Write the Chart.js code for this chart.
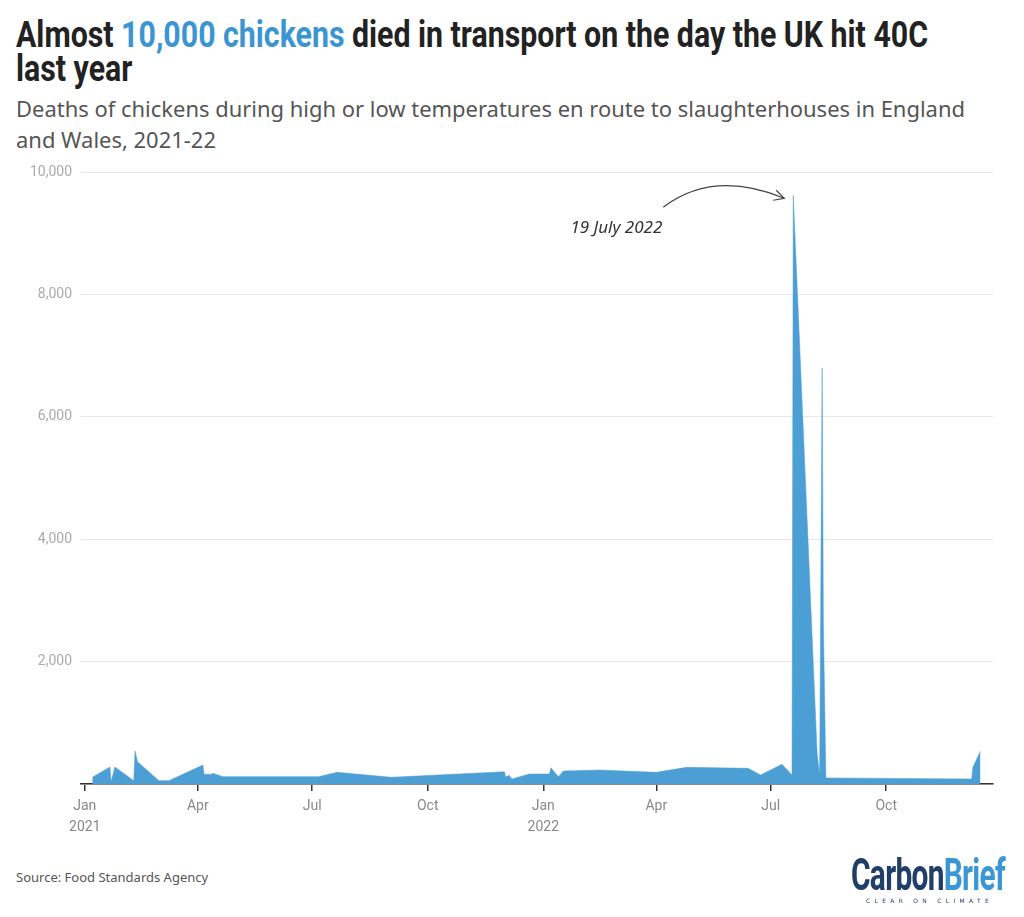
<!DOCTYPE html>
<html>
<head>
<meta charset="utf-8">
<script src="https://cdn.jsdelivr.net/npm/chart.js@4.4.1/dist/chart.umd.min.js"></script>
<style>
  body { margin: 0; background: #fff; }
  #page { position: relative; width: 1024px; height: 917px; overflow: hidden; }
  h1 {
    position: absolute; left: 16px; top: 18px; margin: 0;
    font-family: Roboto, sans-serif; white-space: nowrap;
    font-weight: bold; font-size: 36px; line-height: 34px; color: #222;
    transform-origin: left top;
  }
  h1 .hl { color: #3b95d2; }
  .sub {
    position: absolute; left: 16px; top: 93px; margin: 0; white-space: nowrap;
    font-family: 'Noto Sans', sans-serif; font-size: 22px; line-height: 31px; color: #555;
    transform-origin: left top;
  }
  #wrap { position: absolute; left: 0; top: 150px; width: 1024px; height: 700px; }
  .source {
    position: absolute; left: 16px; top: 868px;
    font-family: 'Noto Sans', sans-serif; font-size: 13px; color: #555;
  }
  .logo { position: absolute; left: 851px; top: 853px; width: 160px; height: 60px; }
  .logo .name {
    position: absolute; left: 0; top: 0;
    font-family: Roboto, sans-serif; font-weight: bold; font-size: 44px;
    line-height: 44px; letter-spacing: -1px; transform-origin: left top;
    white-space: nowrap;
  }
  .logo .c { color: #1f3e68; }
  .logo .b { color: #3a97d4; }
  .logo .tag {
    position: absolute; left: 15px; top: 44px; font-family: 'DejaVu Sans', sans-serif;
    font-size: 6px; letter-spacing: 4.3px; color: #1f3e68; white-space: nowrap;
  }
</style>
</head>
<body>
<div id="page">
  <h1 id="title"><span id="t1">Almost <span class="hl">10,000 chickens</span> died in transport on the day the UK hit 40C</span><br>last year</h1>
  <p class="sub" id="sub"><span id="s1">Deaths of chickens during high or low temperatures en route to slaughterhouses in England</span><br>and Wales, 2021-22</p>
  <div id="wrap"><canvas id="myChart"></canvas></div>
  <div class="source">Source: Food Standards Agency</div>
  <div class="logo">
    <div class="name" id="logoName"><span class="c">Carbon</span><span class="b">Brief</span></div>
    <div class="tag">CLEAR ON CLIMATE</div>
  </div>
</div>
<script>
'use strict';

// dates of each reported batch and the number of chickens that died
let dates = ['2021-01-07', '2021-01-21', '2021-01-22', '2021-01-25', '2021-02-09', '2021-02-10',
    '2021-02-12', '2021-03-01', '2021-03-09', '2021-04-05', '2021-04-06', '2021-04-12',
    '2021-04-13', '2021-04-21', '2021-07-06', '2021-07-21', '2021-09-02', '2021-12-01',
    '2021-12-02', '2021-12-05', '2021-12-07', '2021-12-21', '2022-01-06', '2022-01-07',
    '2022-01-13', '2022-01-17', '2022-02-15', '2022-04-01', '2022-04-25', '2022-06-13',
    '2022-06-23', '2022-07-10', '2022-07-18', '2022-07-19', '2022-08-07', '2022-08-09',
    '2022-08-11', '2022-08-12', '2022-08-14', '2022-12-08', '2022-12-09', '2022-12-15'];
let deaths = [110, 278, 40, 278, 55, 540,
    365, 55, 55, 310, 158, 158,
    175, 120, 120, 190, 110, 200,
    120, 140, 82, 163, 163, 266,
    120, 212, 228, 190, 272, 256,
    147, 321, 147, 9620, 500, 150,
    6800, 2600, 100, 82, 272, 540];

// x axis ticks (quarter starts) and their labels
let tickDates = ['2021-01-01', '2021-04-01', '2021-07-01', '2021-10-01',
    '2022-01-01', '2022-04-01', '2022-07-01', '2022-10-01'];
let tickLabels = [['Jan', '2021'], ['Apr'], ['Jul'], ['Oct'], ['Jan', '2022'], ['Apr'], ['Jul'], ['Oct']];
let yTicks = [0, 2000, 4000, 6000, 8000, 10000];

let axisStart = '2020-12-29';
let axisEnd = '2022-12-25';
let peakDate = '2022-07-19';

// squeeze the headline, subtitle and logo to the widths in the original
function fitWidth(boxId, lineId, width) {
    let box = document.getElementById(boxId);
    let w = document.getElementById(lineId).getBoundingClientRect().width;
    box.style.transform = 'scaleX(' + (width / w) + ')';
}
fitWidth('title', 't1', 912);
fitWidth('sub', 's1', 949);
fitWidth('logoName', 'logoName', 154);

// turn 'yyyy-mm-dd' into a day number so a linear axis can be used
function toDay(s) {
    let p = s.split('-');
    return Date.UTC(+p[0], +p[1] - 1, +p[2]) / 86400000;
}

let points = [];
for (let i = 0; i < dates.length; i++) {
    points.push({ x: toDay(dates[i]), y: deaths[i] });
}

// draws the "19 July 2022" note with its curved arrow
let notePlugin = {
    id: 'note',
    afterDatasetsDraw(chart) {
        let ctx = chart.ctx;
        let px = chart.scales.x.getPixelForValue(toDay(peakDate));
        let i = dates.indexOf(peakDate);
        let py = chart.scales.y.getPixelForValue(deaths[i]);
        ctx.save();
        ctx.font = 'italic 17px "Noto Sans"';
        ctx.fillStyle = '#333';
        ctx.textAlign = 'right';
        ctx.textBaseline = 'middle';
        ctx.fillText('19 July 2022', px - 131, py + 33);

        ctx.strokeStyle = '#444';
        ctx.lineWidth = 1.2;
        ctx.beginPath();
        ctx.moveTo(px - 130, py + 12);
        ctx.quadraticCurveTo(px - 80, py - 26, px - 9, py + 3);
        ctx.stroke();
        ctx.beginPath();
        ctx.moveTo(px - 17, py - 5);
        ctx.lineTo(px - 9, py + 3);
        ctx.lineTo(px - 20, py + 5);
        ctx.stroke();
        ctx.restore();
    }
};

const ctx = document.getElementById('myChart');

new Chart(ctx, {
    type: 'line',
    data: {
        datasets: [{
            data: points,
            fill: 'origin',
            backgroundColor: '#4b9fd5',
            borderColor: '#4b9fd5',
            borderWidth: 0.5,
            pointRadius: 0,
            tension: 0
        }]
    },
    options: {
        responsive: true,
        maintainAspectRatio: false,
        animation: false,
        layout: { padding: { top: 22, right: 31, left: 0, bottom: 0 } },
        plugins: { legend: { display: false }, tooltip: { enabled: false } },
        scales: {
            x: {
                type: 'linear',
                min: toDay(axisStart),
                max: toDay(axisEnd),
                afterBuildTicks(scale) {
                    scale.ticks = tickDates.map(d => ({ value: toDay(d) }));
                },
                afterFit(scale) { scale.height = 66; },
                ticks: {
                    autoSkip: false,
                    maxRotation: 0,
                    padding: 5,
                    color: '#888',
                    font: { family: 'Roboto', size: 14, lineHeight: 1.5 },
                    callback: (value, index) => tickLabels[index]
                },
                grid: { drawOnChartArea: false, tickLength: 7, color: '#333', lineWidth: 1.5 },
                border: { color: '#333', width: 1.5 }
            },
            y: {
                min: 0,
                max: 10000,
                afterBuildTicks(scale) {
                    scale.ticks = yTicks.map(v => ({ value: v }));
                },
                afterFit(scale) { scale.width = 81; },
                ticks: {
                    padding: 9,
                    color: '#aaa',
                    font: { family: 'Roboto', size: 14 },
                    callback: value => value === 0 ? '' : value.toLocaleString('en-GB')
                },
                grid: { color: '#e8e8e8', drawTicks: false },
                border: { display: false }
            }
        }
    },
    plugins: [notePlugin]
});
</script>
</body>
</html>
